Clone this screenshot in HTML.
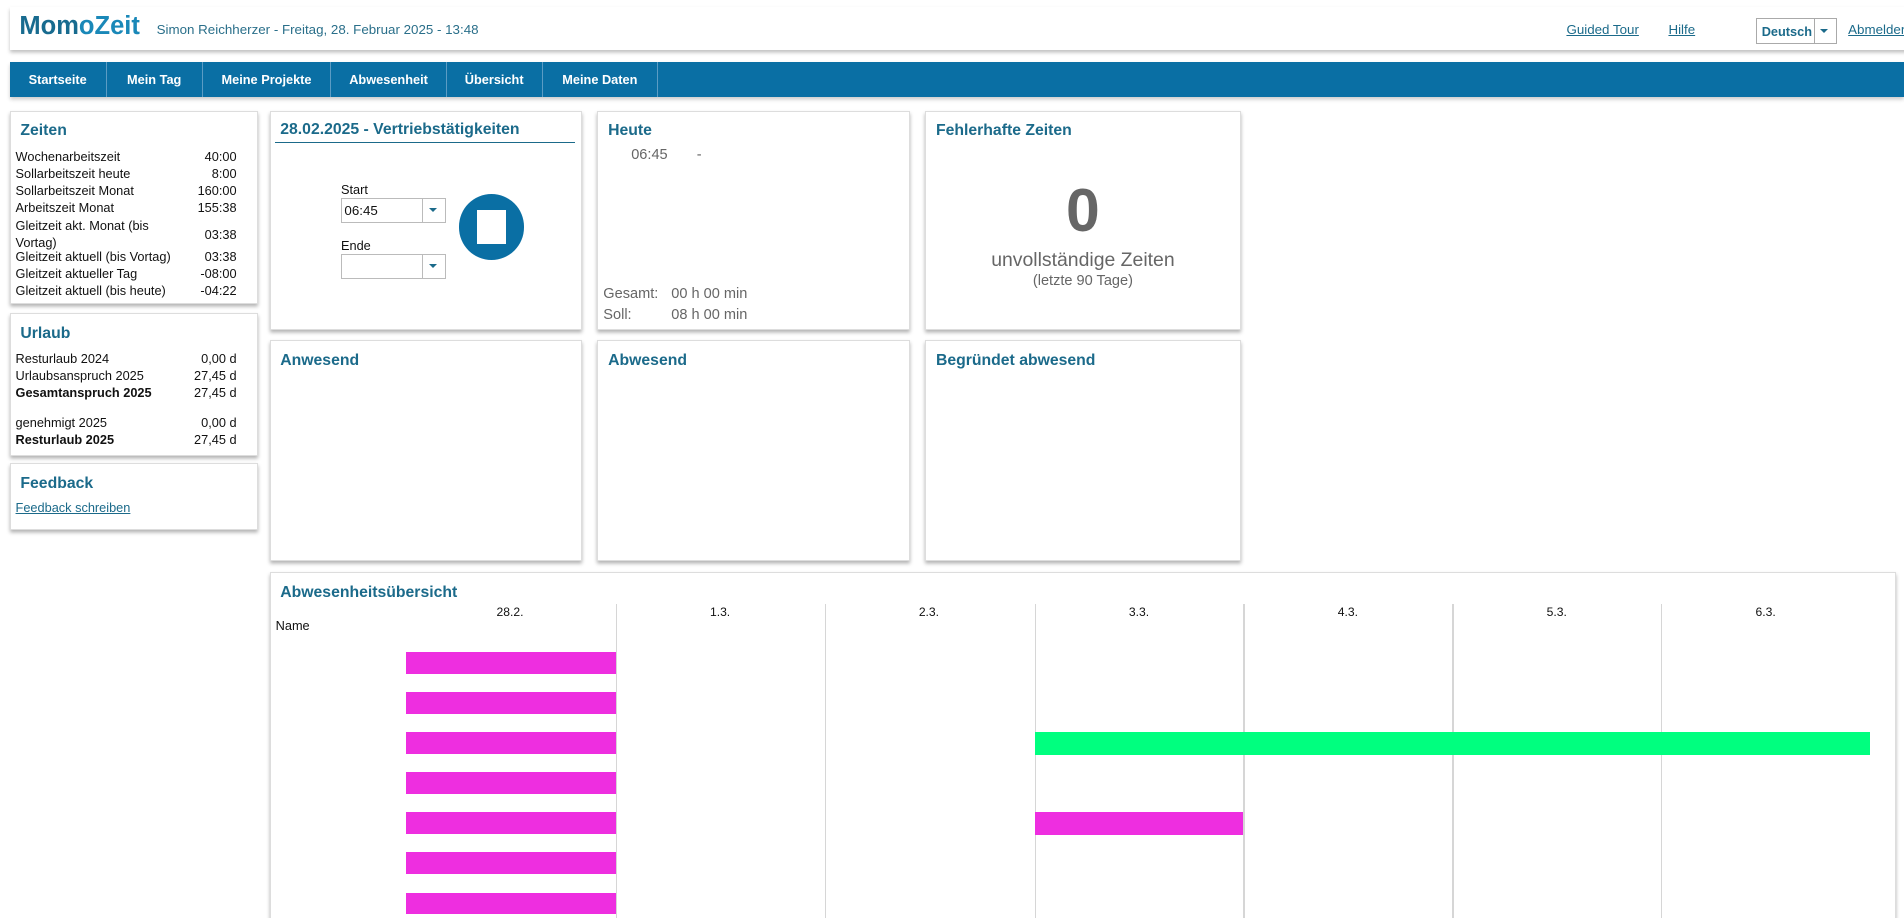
<!DOCTYPE html>
<html><head><meta charset="utf-8"><style>
html,body{margin:0;padding:0;width:1904px;height:918px;overflow:hidden;background:#fff}
#w{zoom:1.2143;position:relative;width:1568px;height:756px;font-family:"Liberation Sans",sans-serif;color:#111}
.a{position:absolute;white-space:nowrap}
.card{position:absolute;background:#fff;border:1px solid #ddd;box-shadow:0 2px 3px rgba(0,0,0,.3)}
.t{position:absolute;left:8px;top:9px;font-size:13px;font-weight:bold;color:#1b6a8a}
.row{position:absolute;left:4px;right:17px;font-size:10.5px;display:flex;justify-content:space-between}
.nav{position:absolute;top:51px;left:8px;right:0;height:29px;background:#0a6fa4;box-shadow:0 2px 3px rgba(0,0,0,.2)}
.nav span{position:absolute;top:0;height:29px;line-height:29px;color:#fff;font-weight:bold;font-size:10.5px;text-align:center;border-right:1px solid #5b9cc4}
a{color:#1b6a8a;text-decoration:underline}
.vl{position:absolute;top:497px;width:1px;height:260px;background:#d6d6d6}
.d{position:absolute;top:498px;font-size:10px;width:172px;text-align:center}
.pb{position:absolute;left:334px;width:173px;height:18px;background:#ee2ee0}
</style></head><body><div id="w">
<div class="a" style="left:8px;top:6px;width:1570px;height:35px;background:#fff;box-shadow:0 2px 3px rgba(0,0,0,.25)"></div>
<div class="a" style="left:16px;top:10px;font-size:21px;font-weight:bold;color:#186b8f">Mom<span style="color:#1a88b8">oZeit</span></div>
<div class="a" style="left:129px;top:18px;font-size:11px;color:#2a6f8a">Simon Reichherzer - Freitag, 28. Februar 2025 - 13:48</div>
<a class="a" style="left:1290px;top:18px;font-size:11px">Guided Tour</a>
<a class="a" style="left:1374px;top:18px;font-size:11px">Hilfe</a>
<div class="a" style="left:1446px;top:15px;width:65px;height:20px;border:1px solid #aaa;background:#fff"><span style="position:absolute;left:4px;top:4px;font-size:10.5px;font-weight:bold;color:#1b6a8a">Deutsch</span><span style="position:absolute;left:47px;top:0;width:1px;height:20px;background:#aaa"></span><span style="position:absolute;left:52px;top:8px;border:4px solid transparent;border-top-color:#1b6a8a"></span></div>
<a class="a" style="left:1522px;top:18px;font-size:11px">Abmelden</a>
<div class="nav">
<span style="left:0;width:79px">Startseite</span><span style="left:80px;width:78px">Mein Tag</span><span style="left:159px;width:105px">Meine Projekte</span><span style="left:265px;width:94px">Abwesenheit</span><span style="left:360px;width:78px">Übersicht</span><span style="left:439px;width:94px">Meine Daten</span>
</div>
<div class="card" style="left:8px;top:91px;width:203px;height:158px"><div class="t">Zeiten</div>
<div class="row" style="top:31px"><span>Wochenarbeitszeit</span><span>40:00</span></div>
<div class="row" style="top:45px"><span>Sollarbeitszeit heute</span><span>8:00</span></div>
<div class="row" style="top:59px"><span>Sollarbeitszeit Monat</span><span>160:00</span></div>
<div class="row" style="top:73px"><span>Arbeitszeit Monat</span><span>155:38</span></div>
<div class="row" style="top:87px;line-height:14px"><span>Gleitzeit akt. Monat (bis<br>Vortag)</span><span style="padding-top:7px">03:38</span></div>
<div class="row" style="top:113px"><span>Gleitzeit aktuell (bis Vortag)</span><span>03:38</span></div>
<div class="row" style="top:127px"><span>Gleitzeit aktueller Tag</span><span>-08:00</span></div>
<div class="row" style="top:141px"><span>Gleitzeit aktuell (bis heute)</span><span>-04:22</span></div>
</div>
<div class="card" style="left:8px;top:258px;width:203px;height:116px"><div class="t">Urlaub</div>
<div class="row" style="top:30px"><span>Resturlaub 2024</span><span>0,00 d</span></div>
<div class="row" style="top:44px"><span>Urlaubsanspruch 2025</span><span>27,45 d</span></div>
<div class="row" style="top:58px;font-weight:bold"><span>Gesamtanspruch 2025</span><span style="font-weight:normal">27,45 d</span></div>
<div class="row" style="top:83px"><span>genehmigt 2025</span><span>0,00 d</span></div>
<div class="row" style="top:97px;font-weight:bold"><span>Resturlaub 2025</span><span style="font-weight:normal">27,45 d</span></div>
</div>
<div class="card" style="left:8px;top:381px;width:203px;height:54px"><div class="t">Feedback</div>
<a class="a" style="left:4px;top:30px;font-size:10.5px">Feedback schreiben</a></div>
<div class="card" style="left:222px;top:91px;width:256px;height:179px"><div class="t" style="top:8px">28.02.2025 - Vertriebstätigkeiten</div>
<div class="a" style="left:4px;top:25px;width:247px;height:1px;background:#1b6a8a"></div>
<div class="a" style="left:58px;top:58px;font-size:10.5px">Start</div>
<div class="a" style="left:58px;top:71px;width:85px;height:19px;border:1px solid #bbb;font-size:11px;line-height:19px;text-indent:2px">06:45<span style="position:absolute;left:66px;top:0;width:1px;height:19px;background:#bbb"></span><span style="position:absolute;left:72px;top:8px;border:4px solid transparent;border-top-color:#1b6a8a"></span></div>
<div class="a" style="left:58px;top:104px;font-size:10.5px">Ende</div>
<div class="a" style="left:58px;top:117px;width:85px;height:19px;border:1px solid #bbb"><span style="position:absolute;left:66px;top:0;width:1px;height:19px;background:#bbb"></span><span style="position:absolute;left:72px;top:8px;border:4px solid transparent;border-top-color:#1b6a8a"></span></div>
<div class="a" style="left:155px;top:68px;width:54px;height:54px;border-radius:50%;background:#0a6fa4"><div style="position:absolute;left:15px;top:13px;width:24px;height:28px;background:#fff"></div></div>
</div>
<div class="card" style="left:492px;top:91px;width:256px;height:179px"><div class="t">Heute</div>
<div class="a" style="left:27px;top:29px;font-size:12px;color:#666">06:45</div><div class="a" style="left:81px;top:29px;font-size:12px;color:#666">-</div>
<div class="a" style="left:4px;top:144px;font-size:12px;color:#666">Gesamt:</div><div class="a" style="left:60px;top:144px;font-size:12px;color:#666">00 h 00 min</div>
<div class="a" style="left:4px;top:161px;font-size:12px;color:#666">Soll:</div><div class="a" style="left:60px;top:161px;font-size:12px;color:#666">08 h 00 min</div>
</div>
<div class="card" style="left:762px;top:91px;width:258px;height:179px"><div class="t">Fehlerhafte Zeiten</div>
<div class="a" style="left:0;width:258px;text-align:center;top:52px;font-size:50px;font-weight:bold;color:#666">0</div>
<div class="a" style="left:0;width:258px;text-align:center;top:113px;font-size:16px;color:#666">unvollständige Zeiten</div>
<div class="a" style="left:0;width:258px;text-align:center;top:133px;font-size:12px;color:#666">(letzte 90 Tage)</div>
</div>
<div class="card" style="left:222px;top:280px;width:256px;height:180px"><div class="t">Anwesend</div></div>
<div class="card" style="left:492px;top:280px;width:256px;height:180px"><div class="t">Abwesend</div></div>
<div class="card" style="left:762px;top:280px;width:258px;height:180px"><div class="t">Begründet abwesend</div></div>
<div class="card" style="left:222px;top:471px;width:1338px;height:300px"><div class="t">Abwesenheitsübersicht</div></div>
<div class="vl" style="left:507px"></div><div class="vl" style="left:679px"></div><div class="vl" style="left:852px"></div><div class="vl" style="left:1024px"></div><div class="vl" style="left:1196px"></div><div class="vl" style="left:1368px"></div>
<div class="d" style="left:334px">28.2.</div><div class="d" style="left:507px">1.3.</div><div class="d" style="left:679px">2.3.</div><div class="d" style="left:852px">3.3.</div><div class="d" style="left:1024px">4.3.</div><div class="d" style="left:1196px">5.3.</div><div class="d" style="left:1368px">6.3.</div>
<div class="a" style="left:227px;top:509px;font-size:10.5px">Name</div>
<div class="pb" style="top:537px"></div><div class="pb" style="top:570px"></div><div class="pb" style="top:603px"></div><div class="pb" style="top:636px"></div><div class="pb" style="top:669px"></div><div class="pb" style="top:702px"></div><div class="pb" style="top:735px"></div>
<div class="a" style="left:852px;top:603px;width:688px;height:19px;background:#00ff7f"></div>
<div class="a" style="left:852px;top:669px;width:172px;height:19px;background:#ee2ee0"></div>
</div></body></html>
